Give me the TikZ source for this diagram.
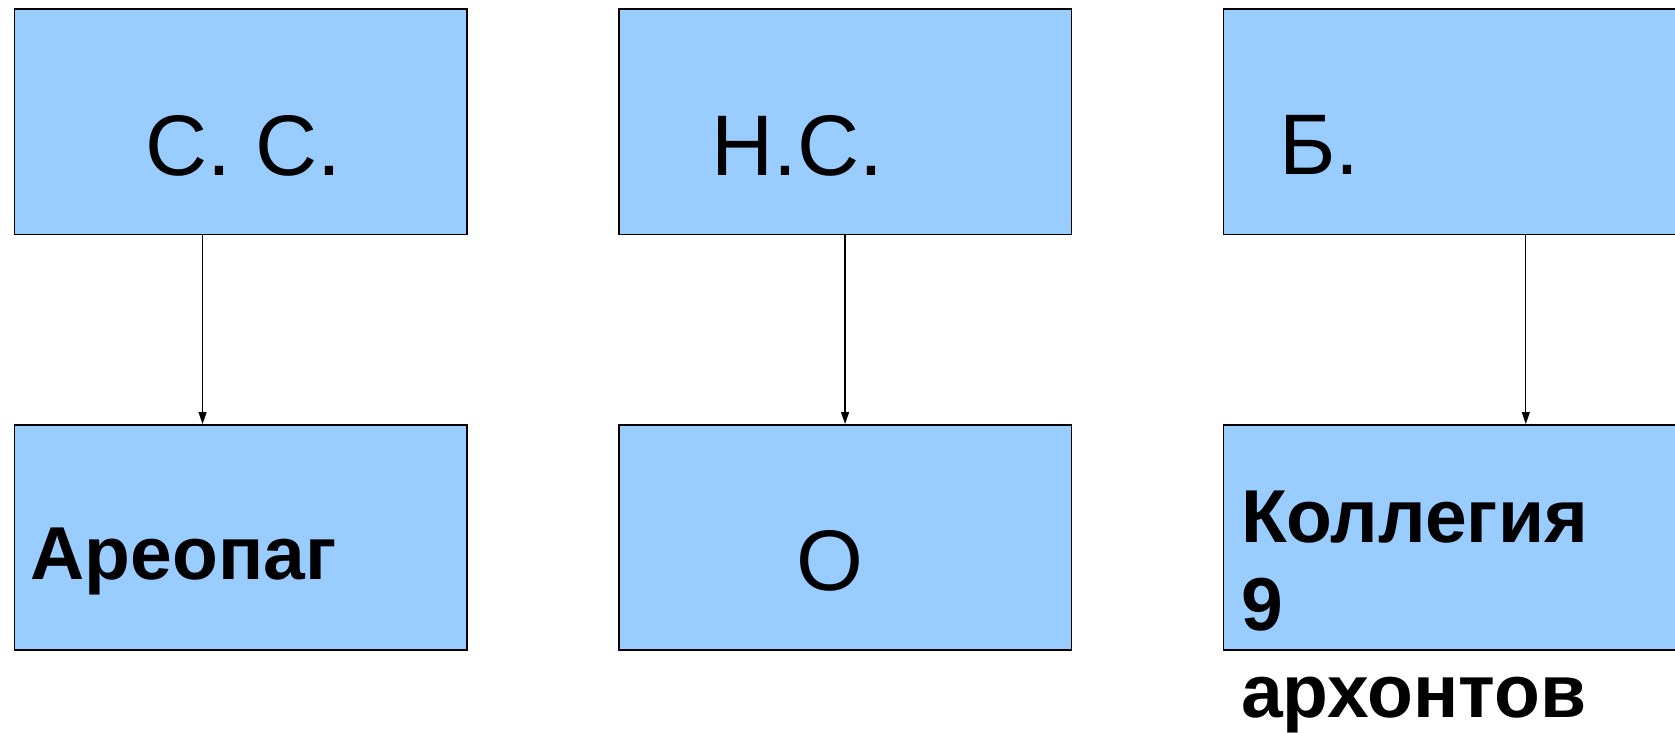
\documentclass[tikz,border=0pt]{standalone}
\usepackage{fontspec}
\setmainfont{Liberation Sans}
\usetikzlibrary{arrows.meta}
\definecolor{boxblue}{HTML}{99CCFF}
\begin{document}
\begin{tikzpicture}[x=1pt,y=-1pt,
  box/.style={draw=black,line width=1.6pt,fill=boxblue,minimum width=452.5pt,minimum height=225pt,inner sep=0pt,anchor=north west},
  bigtxt/.style={font=\fontsize{86}{100}\selectfont,inner sep=0pt,anchor=base west},
  boldtxt/.style={font=\fontsize{75}{88}\bfseries\selectfont,inner sep=0pt,anchor=base west},
  conn/.style={line width=1.2pt,-{Triangle[length=12pt,width=8pt]}}]
\useasboundingbox (0,0) rectangle (1675,733);
\clip (0,0) rectangle (1675,733);
% top boxes
\node[box] (t1) at (13.5,8.5) {};
\node[box] (t2) at (618,8.5) {};
\node[box,minimum width=480pt] (t3) at (1222.5,8.5) {};
% bottom boxes
\node[box] (b1) at (13.5,424) {};
\node[box] (b2) at (618,424) {};
\node[box,minimum width=480pt] (b3) at (1222.5,424) {};
% texts
\node[bigtxt] (l1) at (145,175) {С. С.};
\node[bigtxt] (l2) at (711,175) {Н.С.};
\node[bigtxt] (l3) at (1279,174) {Б.};
\node[boldtxt] (m1) at (30.5,579) {Ареопаг};
\node[bigtxt] (m2) at (796,590) {О};
\node[boldtxt] (m3a) at (1241,542) {Коллегия};
\node[boldtxt] (m3b) at (1241,630) {9};
\node[boldtxt] (m3c) at (1241,717) {архонтов};
% connectors
\draw[conn] ([xshift=-38pt]t1.south) -- ([xshift=-38pt]b1.north);
\draw[conn] (t2.south) -- (b2.north);
\draw[conn] ([xshift=62.5pt]t3.south) -- ([xshift=62.5pt]b3.north);
\end{tikzpicture}
\end{document}
